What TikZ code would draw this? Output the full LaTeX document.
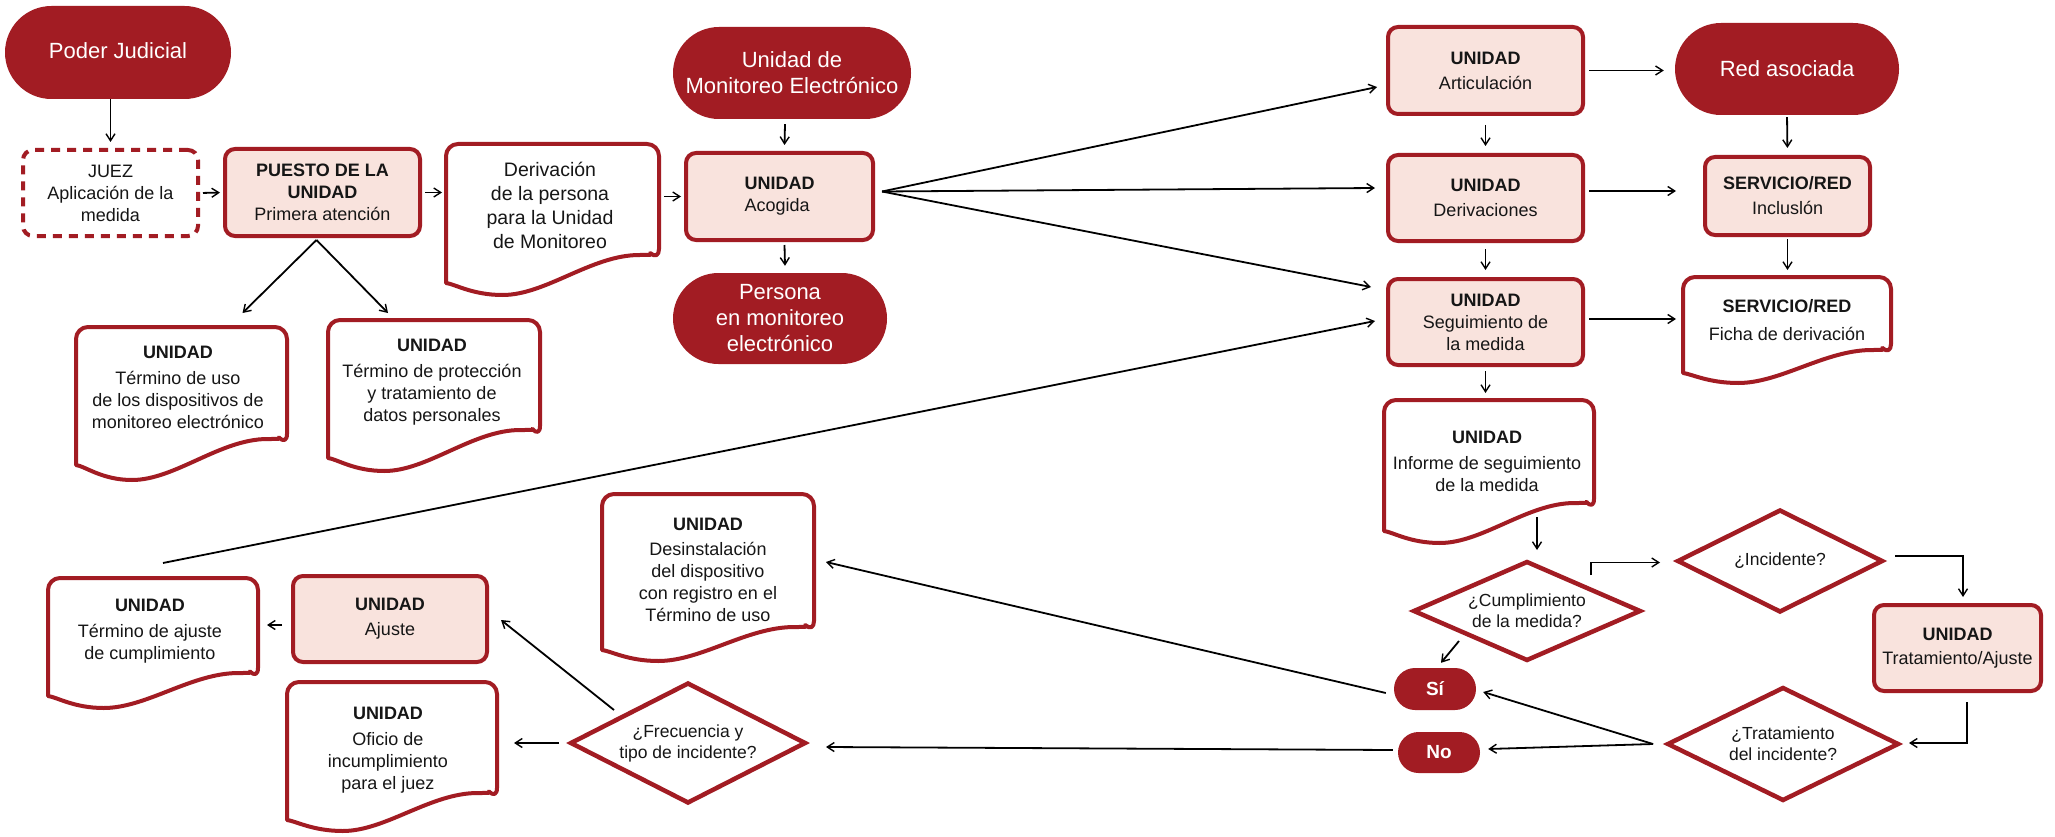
\documentclass[tikz,border=0pt]{standalone}
\usepackage{fontspec}
\setmainfont{Liberation Sans}
\usetikzlibrary{calc,arrows.meta,shapes.misc}
\definecolor{cred}{HTML}{A21C23}
\definecolor{cpink}{HTML}{F9E3DD}
\definecolor{ctext}{HTML}{161616}
\newcommand\dgbody{\fontsize{18}{22}\selectfont}
\newcommand\dgbig{\fontsize{19.5}{24}\selectfont}
\newcommand\dgpill{\fontsize{22}{26}\selectfont}
\newcommand\dgdiam{\fontsize{17.5}{21}\selectfont}
\newcommand\dgsn{\fontsize{19}{22}\selectfont\bfseries}
\newcommand\docshape[7]{%
 \draw[docline] ({#1+2},{#4-2}) [rounded corners=12pt] -- ({#1+2},{#2+2}) -- ({#3-2},{#2+2}) -- ({#3-2},{#6-2}) [sharp corners]
 .. controls ({#1+0.96*(#3-#1)},{#7-3}) .. ({#1+0.9*(#3-#1)},{#7-3})
 .. controls ({#1+0.68*(#3-#1)},{#7-3}) and ({#1+0.47*(#3-#1)},{#5-2}) .. ({#1+0.27*(#3-#1)},{#5-2})
 .. controls ({#1+0.13*(#3-#1)},{#5-2}) and ({#1+0.05*(#3-#1)},{#4-1}) .. ({#1+2},{#4-2}) -- cycle;}
\newcommand\diamshape[1]{%
 \draw[diamline] ($(#1.north)+(0,3)$) -- ($(#1.east)+(-5,0)$) -- ($(#1.south)+(0,-3)$) -- ($(#1.west)+(5,0)$) -- cycle;}
\begin{document}
\begin{tikzpicture}[x=1pt,y=-1pt,
 pill/.style={shape=rounded rectangle, fill=cred, draw=none, text=white, font=\dgpill, align=center, inner sep=0pt},
 pinkbox/.style={draw=cred, fill=cpink, line width=4pt, rounded corners=10pt, align=center, inner sep=0pt, font=\dgbody, text=ctext},
 dashbox/.style={draw=cred, fill=white, line width=4pt, rounded corners=10pt, dash pattern=on 9pt off 7pt, align=center, inner sep=0pt, font=\dgbody, text=ctext},
 frame/.style={draw=none, inner sep=0pt, outer sep=0pt},
 doctext/.style={align=center, font=\dgbody, inner sep=0pt, text=ctext},
 docline/.style={draw=cred, line width=4pt, fill=white, line join=round},
 diam/.style={draw=none, inner sep=0pt, outer sep=0pt, align=center, font=\dgdiam, text=ctext},
 diamline/.style={draw=cred, line width=4.5pt, line join=miter},
 conn/.style={draw=black, line width=1.8pt, -{Straight Barb[length=7pt,width=9pt,line width=1.4pt]}}
]
\useasboundingbox[fill=white] (0,0) rectangle (2055,837);

% ---------- pills
\node[pill, minimum width=226pt, minimum height=93pt] (poder) at (118,52.5) {\raisebox{3pt}{Poder Judicial}};
\node[pill, minimum width=238pt, minimum height=92pt] (ume) at (792,73) {Unidad de\\Monitoreo Electrónico};
\node[pill, minimum width=214pt, minimum height=91pt] (persona) at (780,318.5) {Persona\\en monitoreo\\electrónico};
\node[pill, minimum width=224pt, minimum height=92pt] (red) at (1787,69) {Red asociada};
\node[pill, minimum width=82pt, minimum height=42pt, font=\dgsn] (si) at (1435,689) {Sí};
\node[pill, minimum width=82pt, minimum height=41pt, font=\dgsn] (no) at (1439,752.5) {No};

% ---------- boxes
\node[dashbox, minimum width=175pt, minimum height=86pt] (juez) at (110.5,193) {JUEZ\\Aplicación de la\\medida};
\node[pinkbox, minimum width=195pt, minimum height=87pt] (puesto) at (322.5,192.5) {\textbf{PUESTO DE LA}\\\textbf{UNIDAD}\\Primera atención};
\node[pinkbox, minimum width=187pt, minimum height=87pt, align=left] (acogida) at (779.5,196.5) {\textbf{UNIDAD}\\Acogida};
\node[pinkbox, minimum width=195pt, minimum height=87pt] (artic) at (1485.5,70.5) {\textbf{UNIDAD}\\[3pt]Articulación};
\node[pinkbox, minimum width=195pt, minimum height=86pt] (deriv) at (1485.5,198) {\textbf{UNIDAD}\\[3pt]Derivaciones};
\node[pinkbox, minimum width=195pt, minimum height=86pt] (segui) at (1485.5,322) {\textbf{UNIDAD}\\Seguimiento de\\la medida};
\node[pinkbox, minimum width=165pt, minimum height=78pt] (inclus) at (1787.5,196) {\textbf{SERVICIO/RED}\\[3pt]Incluslón};
\node[pinkbox, minimum width=167pt, minimum height=86pt] (trat) at (1957.5,648) {\textbf{UNIDAD}\\[2pt]Tratamiento/Ajuste};
\node[pinkbox, minimum width=194pt, minimum height=86pt] (ajuste) at (390,619) {\textbf{UNIDAD}\\[3pt]Ajuste};

% ---------- documents
\docshape{444}{142}{661}{285}{297}{263}{258}
\node[frame, minimum width=217pt, minimum height=143pt] (derivdoc) at (552.5,213.5) {};
\node[doctext, font=\dgbig] (derivdoc-t) at (550,205.5) {Derivación\\de la persona\\para la Unidad\\de Monitoreo};

\docshape{74}{325}{289}{467}{482}{448}{442}
\node[frame, minimum width=215pt, minimum height=142pt] (usodoc) at (181.5,396) {};
\node[doctext] (usodoc-t) at (178,387) {\textbf{UNIDAD}\\[4pt]Término de uso\\de los dispositivos de\\monitoreo electrónico};

\docshape{326}{318}{542}{460}{473}{440}{433}
\node[frame, minimum width=216pt, minimum height=142pt] (protdoc) at (434,389) {};
\node[doctext] (protdoc-t) at (432,382) {\textbf{UNIDAD}\\[4pt]Término de protección\\y tratamiento de\\datos personales};

\docshape{1681}{275}{1893}{375}{385}{358}{353}
\node[frame, minimum width=212pt, minimum height=100pt] (ficha) at (1787,325) {};
\node[doctext] (ficha-t) at (1787,320) {\textbf{SERVICIO/RED}\\[6pt]Ficha de derivación};

\docshape{1382}{398}{1596}{533}{545}{513}{506}
\node[frame, minimum width=214pt, minimum height=135pt] (informe) at (1489,465.5) {};
\node[doctext] (informe-t) at (1487,461) {\textbf{UNIDAD}\\[4pt]Informe de seguimiento\\de la medida};

\docshape{600}{492}{816}{652}{663}{635}{630}
\node[frame, minimum width=216pt, minimum height=160pt] (desins) at (708,572) {};
\node[doctext] (desins-t) at (708,569.5) {\textbf{UNIDAD}\\[3pt]Desinstalación\\del dispositivo\\con registro en el\\Término de uso};

\docshape{46}{576}{260}{698}{710}{682}{676}
\node[frame, minimum width=214pt, minimum height=122pt] (ajdoc) at (153,637) {};
\node[doctext] (ajdoc-t) at (150,631) {\textbf{UNIDAD}\\[4pt]Término de ajuste\\de cumplimiento};

\docshape{285}{680}{499}{822}{833}{802}{796}
\node[frame, minimum width=214pt, minimum height=142pt] (oficio) at (392,751) {};
\node[doctext] (oficio-t) at (388,750) {\textbf{UNIDAD}\\[4pt]Oficio de\\incumplimiento\\para el juez};

% ---------- diamonds
\node[diam, minimum width=236pt, minimum height=104pt] (cumpl) at (1527,611) {¿Cumplimiento\\de la medida?};
\diamshape{cumpl}
\node[diam, minimum width=214pt, minimum height=107pt] (incid) at (1780,561) {¿Incidente?};
\diamshape{incid}
\node[diam, minimum width=240pt, minimum height=118pt] (tratdiam) at (1783,744) {¿Tratamiento\\del incidente?};
\diamshape{tratdiam}
\node[diam, minimum width=244pt, minimum height=125pt] (frec) at (688,743) {¿Frecuencia y\\tipo de incidente?};
\diamshape{frec}

% ---------- connectors
\draw[conn, shorten >=6pt] (juez.north |- poder.south) -- (juez.north);
\draw[conn, shorten <=3pt, shorten >=3pt] (juez.east) -- (puesto.west);
\draw[conn, shorten <=3pt, shorten >=2pt] (puesto.east) -- (puesto.east -| derivdoc.west);
\draw[conn, shorten <=3pt, shorten >=3pt] (acogida.west -| derivdoc.east) -- (acogida.west);
\draw[conn] ($(puesto.south)+(-6,2)$) -- ($(usodoc.north)+(61,-12)$);
\draw[conn] ($(puesto.south)+(-6,2)$) -- ($(protdoc.north)+(-46,-5)$);
\draw[conn] ($(ume.south)+(-7,5)$) -- ($(acogida.north)+(5,-6)$);
\draw[conn] ($(acogida.south)+(5,3)$) -- ($(persona.north)+(5,-7)$);
\draw[conn] ($(acogida.east)+(7,-5)$) -- ($(artic.west)+(-9,16.5)$);
\draw[conn] ($(acogida.east)+(7,-5)$) -- ($(deriv.west)+(-11,-10)$);
\draw[conn] ($(acogida.east)+(7,-5)$) -- ($(segui.west)+(-15,-35)$);
\draw[conn] ($(ajdoc.north)+(10,-13)$) -- ($(segui.west)+(-11,-1)$);
\draw[conn, shorten <=4pt, shorten >=11pt] (artic.east) -- (artic.east -| red.west);
\draw[conn, shorten <=9pt, shorten >=7pt] (artic.south) -- (deriv.north);
\draw[conn] ($(deriv.east)+(4,-7)$) -- ($(inclus.west)+(-27,-5)$);
\draw[conn, shorten <=2pt, shorten >=7pt] (red.south) -- (inclus.north);
\draw[conn, shorten <=6pt, shorten >=7pt] (deriv.south) -- (segui.north);
\draw[conn, shorten <=2pt, shorten >=5pt] (inclus.south) -- (inclus.south |- ficha.north);
\draw[conn] ($(segui.east)+(4,-3)$) -- ($(ficha.west)+(-5,-6)$);
\draw[conn, shorten <=4pt, shorten >=5pt] (segui.south) -- (segui.south |- informe.north);
\draw[conn] ($(informe.south)+(48,-16)$) -- ($(cumpl.north)+(10,-9)$);
\draw[conn] ($(cumpl.north)+(64,16)$) |- ($(incid.west)+(-13,1.5)$);
\draw[conn] ($(incid.east)+(8,-5)$) -| ($(trat.north)+(5.5,-6)$);
\draw[conn] ($(trat.south)+(9.5,9)$) |- ($(tratdiam.east)+(6,-1)$);
\draw[conn] ($(tratdiam.west)+(-10,0)$) -- ($(si.east)+(7,3)$);
\draw[conn] ($(tratdiam.west)+(-10,0)$) -- ($(no.east)+(8,-3.5)$);
\draw[conn] ($(cumpl.center)+(-68,30)$) -- ($(si.north)+(6,-5)$);
\draw[conn] ($(si.west)+(-8,4)$) -- ($(desins.east)+(10,-10)$);
\draw[conn] ($(no.west)+(-5,-2.5)$) -- ($(frec.east)+(16,4)$);
\draw[conn] ($(frec.center)+(-74,-33)$) -- ($(ajuste.east)+(12,1)$);
\draw[conn, shorten <=7pt, shorten >=15pt] (frec.west) -- (frec.west -| oficio.east);
\draw[conn] ($(ajuste.west)+(-9,6)$) -- ($(ajdoc.east)+(7,-12)$);
\end{tikzpicture}
\end{document}
